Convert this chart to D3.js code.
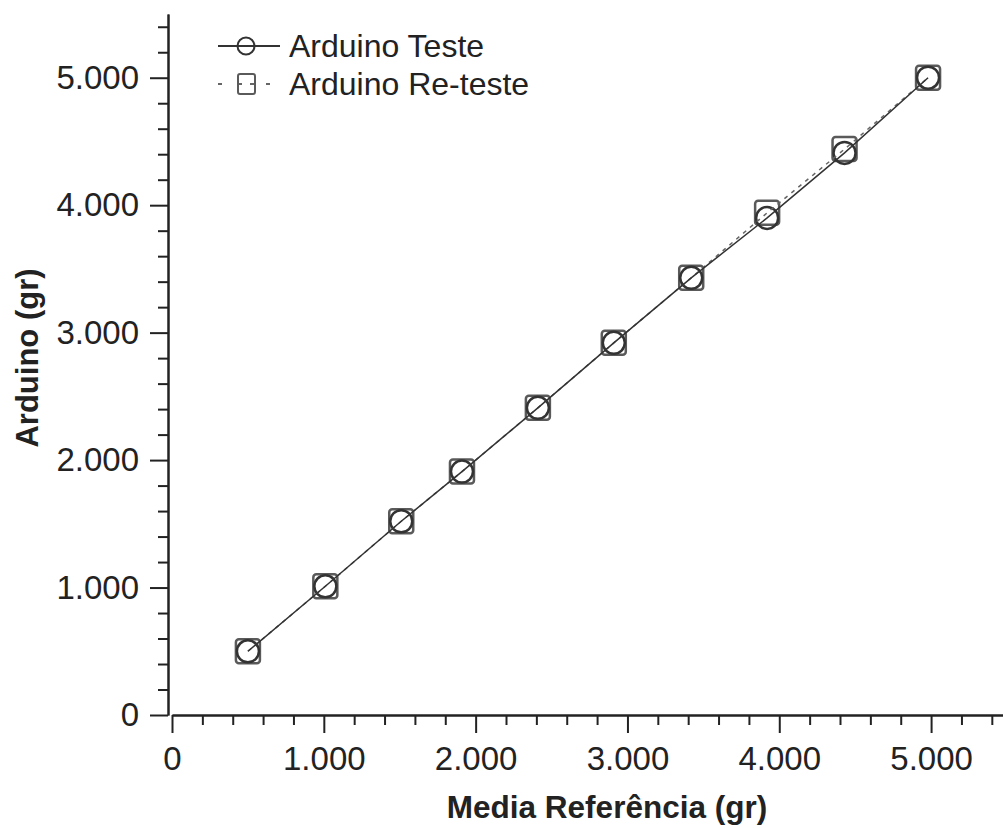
<!DOCTYPE html>
<html>
<head>
<meta charset="utf-8">
<script src="https://cdn.jsdelivr.net/npm/d3@7"></script>
<style>
  body { margin: 0; background: #fff; }
  text { font-family: "Liberation Sans", Arial, sans-serif; fill: #222; }
</style>
</head>
<body>
<div id="chart"></div>
<script>
// dados
var referencia = [500, 1010, 1510, 1910, 2410, 2910, 3420, 3920, 4430, 4980];
var teste      = [500, 1010, 1520, 1910, 2410, 2920, 3430, 3900, 4410, 5000];
var reteste    = [500, 1010, 1520, 1910, 2410, 2920, 3430, 3940, 4440, 5000];
var majorTicks = [0, 1000, 2000, 3000, 4000, 5000];
var seriesNames = ["Arduino Teste", "Arduino Re-teste"];

var width = 1003, height = 828;

var svg = d3.select("#chart")
  .append("svg")
    .attr("width", width)
    .attr("height", height);

// formato brasileiro: 5.000
var locale = d3.formatLocale({decimal: ",", thousands: ".", grouping: [3], currency: ["R$", ""]});
var fmt = locale.format(",d");

var x = d3.scaleLinear().domain([0, 5500]).range([172, 1007]);
var y = d3.scaleLinear().domain([0, 5500]).range([715, 14]);

var minor = d3.range(0, 5501, 200).filter(function(d) { return d % 1000 !== 0; });

// eixo Y
var gy = svg.append("g").attr("transform", "translate(168,0)");
gy.append("g")
  .call(d3.axisLeft(y).tickValues(minor).tickSize(10).tickFormat("").tickSizeOuter(0));
gy.append("g")
  .call(d3.axisLeft(y).tickValues(majorTicks).tickSize(18).tickPadding(11).tickFormat(fmt).tickSizeOuter(0));

// eixo X
var gx = svg.append("g").attr("transform", "translate(0,715)");
gx.append("g")
  .call(d3.axisBottom(x).tickValues(minor).tickSize(10).tickFormat("").tickSizeOuter(0));
gx.append("g")
  .call(d3.axisBottom(x).tickValues(majorTicks).tickSize(18).tickPadding(14).tickFormat(fmt).tickSizeOuter(0));

svg.selectAll(".domain, .tick line").attr("stroke", "#222").attr("stroke-width", 2);
svg.selectAll(".tick text").style("font-size", "33px").attr("fill", "#222");

// títulos
svg.append("text")
  .attr("x", 607)
  .attr("y", 818)
  .attr("text-anchor", "middle")
  .style("font-size", "31.5px")
  .style("font-weight", "bold")
  .text("Media Referência (gr)");

svg.append("text")
  .attr("transform", "translate(38,358) rotate(-90)")
  .attr("text-anchor", "middle")
  .style("font-size", "31px")
  .style("font-weight", "bold")
  .text("Arduino (gr)");

var dTeste = referencia.map(function(d, i) { return [d, teste[i]]; });
var dReteste = referencia.map(function(d, i) { return [d, reteste[i]]; });

var line = d3.line()
  .x(function(d) { return x(d[0]); })
  .y(function(d) { return y(d[1]); });

// marcadores
svg.append("g")
  .selectAll("rect")
  .data(dReteste)
  .enter()
  .append("rect")
    .attr("x", function(d) { return x(d[0]) - 12; })
    .attr("y", function(d) { return y(d[1]) - 12; })
    .attr("width", 24)
    .attr("height", 24)
    .attr("rx", 3)
    .attr("fill", "none")
    .attr("stroke", "#5a5a5a")
    .attr("stroke-width", 2.5);

svg.append("g")
  .selectAll("circle")
  .data(dTeste)
  .enter()
  .append("circle")
    .attr("cx", function(d) { return x(d[0]); })
    .attr("cy", function(d) { return y(d[1]); })
    .attr("r", 11)
    .attr("fill", "none")
    .attr("stroke", "#333")
    .attr("stroke-width", 2.5);

// linhas
svg.append("path")
  .datum(dReteste)
  .attr("d", line)
  .attr("fill", "none")
  .attr("stroke", "#666")
  .attr("stroke-width", 1.5)
  .attr("stroke-dasharray", "4,5");

svg.append("path")
  .datum(dTeste)
  .attr("d", line)
  .attr("fill", "none")
  .attr("stroke", "#333")
  .attr("stroke-width", 1.5);

// legenda
var leg = svg.append("g");
leg.append("line")
  .attr("x1", 218).attr("x2", 280).attr("y1", 46).attr("y2", 46)
  .attr("stroke", "#333").attr("stroke-width", 1.8);
leg.append("circle")
  .attr("cx", 246).attr("cy", 46).attr("r", 8.5)
  .attr("fill", "none").attr("stroke", "#333").attr("stroke-width", 2);
leg.append("text")
  .attr("x", 289).attr("y", 57)
  .style("font-size", "32px")
  .text(seriesNames[0]);

leg.append("line")
  .attr("x1", 218).attr("x2", 270).attr("y1", 84).attr("y2", 84)
  .attr("stroke", "#666").attr("stroke-width", 1.8)
  .attr("stroke-dasharray", "4,16,4,8,4,12,4");
leg.append("rect")
  .attr("x", 238).attr("y", 74).attr("width", 17).attr("height", 20).attr("rx", 2)
  .attr("fill", "none").attr("stroke", "#5a5a5a").attr("stroke-width", 2);
leg.append("text")
  .attr("x", 289).attr("y", 95)
  .style("font-size", "32px")
  .text(seriesNames[1]);
</script>
</body>
</html>
